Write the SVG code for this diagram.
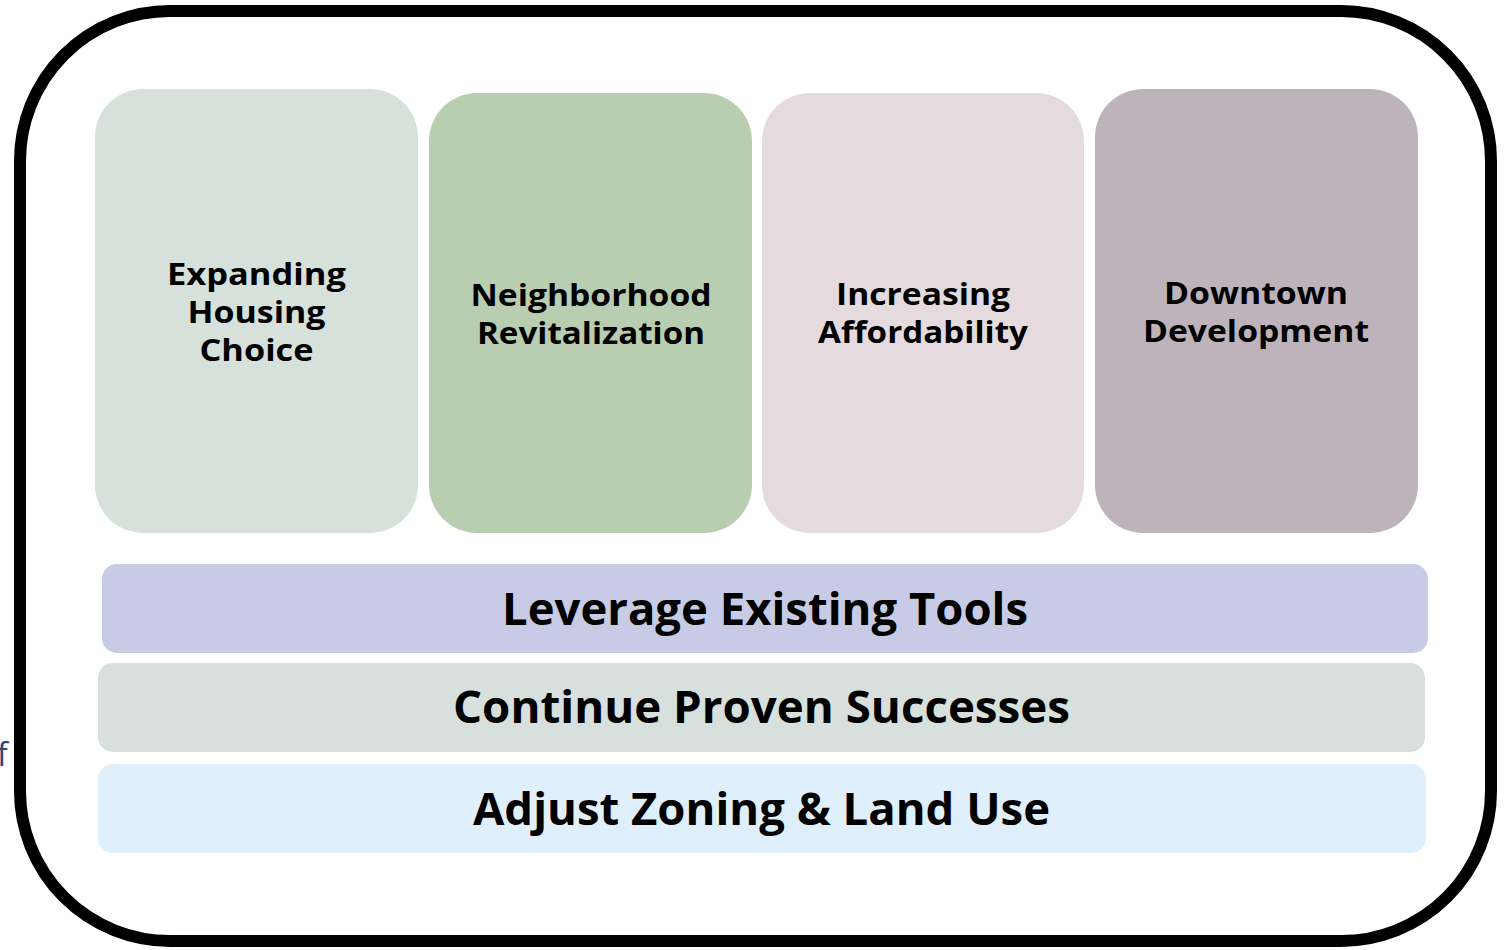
<svg xmlns="http://www.w3.org/2000/svg" width="1512" height="950" viewBox="0 0 1512 950">
<style>
.lbl{font-family:"Open Sans","DejaVu Sans",sans-serif;font-weight:700;fill:#000;text-anchor:middle}
.card{font-size:30px}
.band{font-size:44px}
</style>
<rect width="1512" height="950" fill="#ffffff"/>
<text x="-3" y="766" font-family="'Open Sans',sans-serif" font-size="32" fill="#34427a">f</text>
<rect id="frame" x="20" y="11" width="1471" height="930" rx="150" ry="150" fill="none" stroke="#000" stroke-width="12"/>
<g id="card-expanding">
<rect x="95" y="89" width="323" height="444" rx="48" fill="#d7e1dc"/>
<text class="lbl card" x="256.5" y="285" textLength="179" lengthAdjust="spacingAndGlyphs">Expanding</text>
<text class="lbl card" x="256.5" y="323" textLength="138" lengthAdjust="spacingAndGlyphs">Housing</text>
<text class="lbl card" x="256.5" y="361" textLength="114" lengthAdjust="spacingAndGlyphs">Choice</text>
</g>
<g id="card-neighborhood">
<rect x="429" y="93" width="323" height="440" rx="48" fill="#b9cdb0"/>
<text class="lbl card" x="591" y="306" textLength="241" lengthAdjust="spacingAndGlyphs">Neighborhood</text>
<text class="lbl card" x="591" y="344" textLength="228" lengthAdjust="spacingAndGlyphs">Revitalization</text>
</g>
<g id="card-affordability">
<rect x="762" y="93" width="322" height="440" rx="48" fill="#e5dbdf"/>
<text class="lbl card" x="923" y="305" textLength="174" lengthAdjust="spacingAndGlyphs">Increasing</text>
<text class="lbl card" x="923" y="343" textLength="210" lengthAdjust="spacingAndGlyphs">Affordability</text>
</g>
<g id="card-downtown">
<rect x="1095" y="89" width="323" height="444" rx="48" fill="#beb3bb"/>
<text class="lbl card" x="1256" y="304" textLength="184" lengthAdjust="spacingAndGlyphs">Downtown</text>
<text class="lbl card" x="1256" y="342" textLength="226" lengthAdjust="spacingAndGlyphs">Development</text>
</g>
<g id="band-leverage">
<rect x="102" y="564" width="1326" height="89" rx="15" fill="#c8cbe5"/>
<text class="lbl band" x="765" y="625" textLength="526" lengthAdjust="spacingAndGlyphs">Leverage Existing Tools</text>
</g>
<g id="band-continue">
<rect x="98" y="663" width="1327" height="89" rx="15" fill="#d7e0dc"/>
<text class="lbl band" x="761.5" y="723" textLength="617" lengthAdjust="spacingAndGlyphs">Continue Proven Successes</text>
</g>
<g id="band-adjust">
<rect x="98" y="764" width="1328" height="89" rx="15" fill="#e0effc"/>
<text class="lbl band" x="761.5" y="825" textLength="577" lengthAdjust="spacingAndGlyphs">Adjust Zoning &amp; Land Use</text>
</g>
<g id="connectors"/>
</svg>
